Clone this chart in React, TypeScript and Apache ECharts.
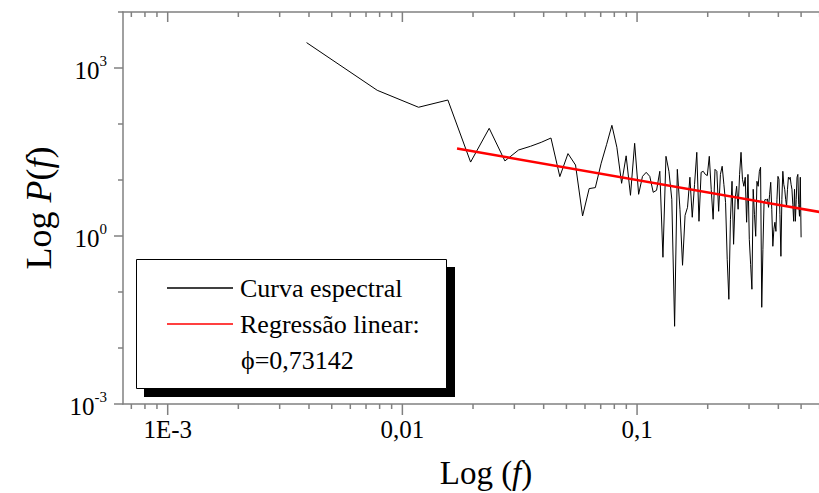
import React, { useEffect, useRef } from 'react';
import * as echarts from 'echarts';

// ---- data ----
// spectral power P(f) at frequencies k/256, k = 1..128
const spectrum = [
  2840, 400, 199, 268, 20.9, 83.8, 21.9, 34.3, 40.0, 47.1,
  56.2, 11.5, 29.6, 18.5, 2.28, 7.02, 7.31, 19.9, 43.4, 94.8,
  38.4, 8.73, 27.0, 5.33, 45.2, 5.55, 11.6, 13.7, 11.6, 6.03,
  6.55, 14.3, 0.417, 26.5, 14.3, 4.52, 0.0244, 15.5, 3.0, 0.3,
  2.34, 3.25, 11.2, 2.16, 8.38, 31.2, 1.83, 13.7, 14.3, 12.6,
  12.0, 26.5, 6.82, 1.99, 15.5, 14.3, 2.76, 12.6, 17.6, 8.38,
  4.0, 0.384, 0.0741, 1.99, 9.48, 0.711, 4.52, 7.72, 3.0, 12.6,
  31.2, 10.3, 7.72, 11.2, 1.76, 12.6, 0.873, 0.312, 0.112, 6.82,
  2.44, 0.988, 9.48, 7.72, 14.3, 16.9, 0.0533, 0.579, 4.0, 4.52,
  4.34, 4.6, 3.25, 5.55, 9.1, 3.0, 0.655, 1.32, 1.76, 1.21,
  4.52, 11.6, 10.3, 2.44, 0.434, 4.52, 14.3, 8.38, 6.82, 4.52,
  3.39, 6.82, 11.2, 10.3, 11.2, 8.38, 6.82, 3.68, 1.83, 6.82,
  1.83, 4.52, 11.2, 12.6, 3.68, 2.25, 11.2, 0.948,
];
const FREQ_RESOLUTION = 1 / 256;
const frequencies = spectrum.map((_, i) => (i + 1) * FREQ_RESOLUTION);

// regression line endpoints (f, P)
const regressionF = [0.0171, 0.62];
const regressionP = [36.4, 2.62];

const seriesNames = ['Curva espectral', 'Regressão linear:'];
const phiText = 'ϕ=0,73142';

// axes
const X_MIN = 0.000645;
const X_MAX = 0.8;
const Y_MIN = 0.001;
const Y_MAX = 10000;
const xLabelValues = [0.001, 0.01, 0.1];
const xLabelTexts = ['1E-3', '0,01', '0,1'];
const yLabelValues = [0.001, 1, 1000];
const yLabelExps = ['-3', '0', '3'];
const xMajorTicks = [0.001, 0.01, 0.1];
const xMinorTicks = [
  0.0007, 0.0008, 0.0009,
  0.002, 0.003, 0.004, 0.005, 0.006, 0.007, 0.008, 0.009,
  0.02, 0.03, 0.04, 0.05, 0.06, 0.07, 0.08, 0.09,
  0.2, 0.3, 0.4, 0.5, 0.6, 0.7,
];
const yMajorTicks = [0.001, 1, 1000];
const yMinorTicks = [0.01, 0.1, 10, 100, 10000];

const FONT = 'Liberation Serif';
const AXIS_GRAY = '#808080';

function matchIndex(values: number[], v: number) {
  for (let i = 0; i < values.length; i++) {
    if (Math.abs(Math.log10(v) - Math.log10(values[i])) < 1e-6) return i;
  }
  return -1;
}

function tickSeries(data: number[][], orient: 'bottom' | 'top' | 'left') {
  return {
    type: 'custom',
    silent: true,
    clip: false,
    z: 6,
    encode: { x: 0, y: 1 },
    data,
    renderItem: (_params: any, api: any) => {
      const p = api.coord([api.value(0), api.value(1)]);
      const len = api.value(2);
      let shape;
      if (orient === 'left') {
        shape = { x1: p[0] - len, y1: p[1], x2: p[0], y2: p[1] };
      } else {
        shape = { x1: p[0], y1: p[1], x2: p[0], y2: p[1] + len };
      }
      return { type: 'line', shape, style: { stroke: AXIS_GRAY, lineWidth: 1.5 } };
    },
  };
}

function nameRich(size: number) {
  return {
    n: { fontFamily: FONT, fontSize: size, color: '#000' },
    i: { fontFamily: FONT, fontSize: size, color: '#000', fontStyle: 'italic' },
  };
}

export default function App() {
  const ref = useRef<HTMLDivElement>(null);
  useEffect(() => {
    const chart = echarts.init(ref.current!, null, { renderer: 'svg' });

    const curve = frequencies.map((f, i) => [f, spectrum[i]]);
    const regression = regressionF.map((f, i) => [f, regressionP[i]]);

    const bottomTicks = [
      ...xMajorTicks.map((v) => [v, Y_MIN, 11]),
      ...xMinorTicks.map((v) => [v, Y_MIN, 5]),
    ];
    const topTicks = [
      ...xMajorTicks.map((v) => [v, Y_MAX, 10]),
      ...xMinorTicks.map((v) => [v, Y_MAX, 5]),
    ];
    const leftTicks = [
      ...yMajorTicks.map((v) => [X_MIN, v, 9]),
      ...yMinorTicks.map((v) => [X_MIN, v, 5]),
    ];

    const option: any = {
      animation: false,
      backgroundColor: '#ffffff',
      grid: { left: 123, top: 12, width: 726, height: 392, containLabel: false, outerBoundsMode: 'none' },
      xAxis: [
        {
          type: 'log',
          logBase: 10,
          min: X_MIN,
          max: X_MAX,
          position: 'bottom',
          axisLine: { show: true, onZero: false, lineStyle: { color: AXIS_GRAY, width: 1.5 } },
          axisTick: { show: false },
          minorTick: { show: false },
          splitLine: { show: false },
          axisLabel: {
            margin: 13,
            fontFamily: FONT,
            fontSize: 25,
            color: '#000',
            formatter: (v: number) => {
              const i = matchIndex(xLabelValues, v);
              return i >= 0 ? xLabelTexts[i] : '';
            },
          },
          name: '{n|Log (}{i|f}{n|)}',
          nameLocation: 'middle',
          nameGap: 52,
          nameTextStyle: { rich: nameRich(33) },
        },
        {
          type: 'log',
          logBase: 10,
          min: X_MIN,
          max: X_MAX,
          position: 'top',
          axisLine: { show: true, onZero: false, lineStyle: { color: AXIS_GRAY, width: 1.5 } },
          axisTick: { show: false },
          axisLabel: { show: false },
          splitLine: { show: false },
        },
      ],
      yAxis: {
        type: 'log',
        logBase: 10,
        min: Y_MIN,
        max: Y_MAX,
        axisLine: { show: true, onZero: false, lineStyle: { color: AXIS_GRAY, width: 1.5 } },
        axisTick: { show: false },
        minorTick: { show: false },
        splitLine: { show: false },
        axisLabel: {
          margin: 16,
          formatter: (v: number) => {
            const i = matchIndex(yLabelValues, v);
            return i >= 0 ? `{b|10}{s|${yLabelExps[i]}}` : '';
          },
          rich: {
            b: { fontFamily: FONT, fontSize: 25, color: '#000', lineHeight: 30, verticalAlign: 'bottom' },
            s: { fontFamily: FONT, fontSize: 15, color: '#000', lineHeight: 15, verticalAlign: 'top' },
          },
        },
        name: '{n|Log }{i|P}{n|(}{i|f}{n|)}',
        nameLocation: 'middle',
        nameRotate: 90,
        nameGap: 66,
        nameTextStyle: { rich: nameRich(36) },
      },
      legend: {
        left: 167,
        top: 273,
        orient: 'vertical',
        padding: 0,
        icon: 'rect',
        itemWidth: 66,
        itemHeight: 1.5,
        itemGap: 6,
        selectedMode: false,
        z: 20,
        textStyle: { fontFamily: FONT, fontSize: 26, color: '#000', lineHeight: 30, padding: [0, 0, 0, 2] },
        data: [{ name: seriesNames[0] }, { name: seriesNames[1] }],
      },
      graphic: [
        { type: 'rect', z: 10, shape: { x: 144, y: 267, width: 311, height: 130 }, style: { fill: '#000' } },
        {
          type: 'rect',
          z: 11,
          shape: { x: 136.5, y: 259.5, width: 310, height: 129 },
          style: { fill: '#fff', stroke: '#000', lineWidth: 1 },
        },
        {
          type: 'text',
          z: 12,
          x: 241,
          y: 360,
          style: { text: phiText, fontFamily: FONT, fontSize: 26, fill: '#000', verticalAlign: 'middle' },
        },
      ],
      series: [
        {
          type: 'line',
          name: seriesNames[0],
          data: curve,
          symbol: 'none',
          lineStyle: { color: '#000', width: 1 },
          itemStyle: { color: '#000' },
          z: 3,
        },
        {
          type: 'line',
          name: seriesNames[1],
          data: regression,
          symbol: 'none',
          lineStyle: { color: '#ff0000', width: 2.5 },
          itemStyle: { color: '#ff0000' },
          z: 4,
        },
        tickSeries(bottomTicks, 'bottom'),
        tickSeries(topTicks, 'top'),
        tickSeries(leftTicks, 'left'),
      ],
    };
    chart.setOption(option);
    return () => chart.dispose();
  }, []);
  return (
    <div
      ref={ref}
      style={{ position: 'absolute', left: 0, top: 0, width: 819, height: 493, overflow: 'hidden' }}
    />
  );
}
